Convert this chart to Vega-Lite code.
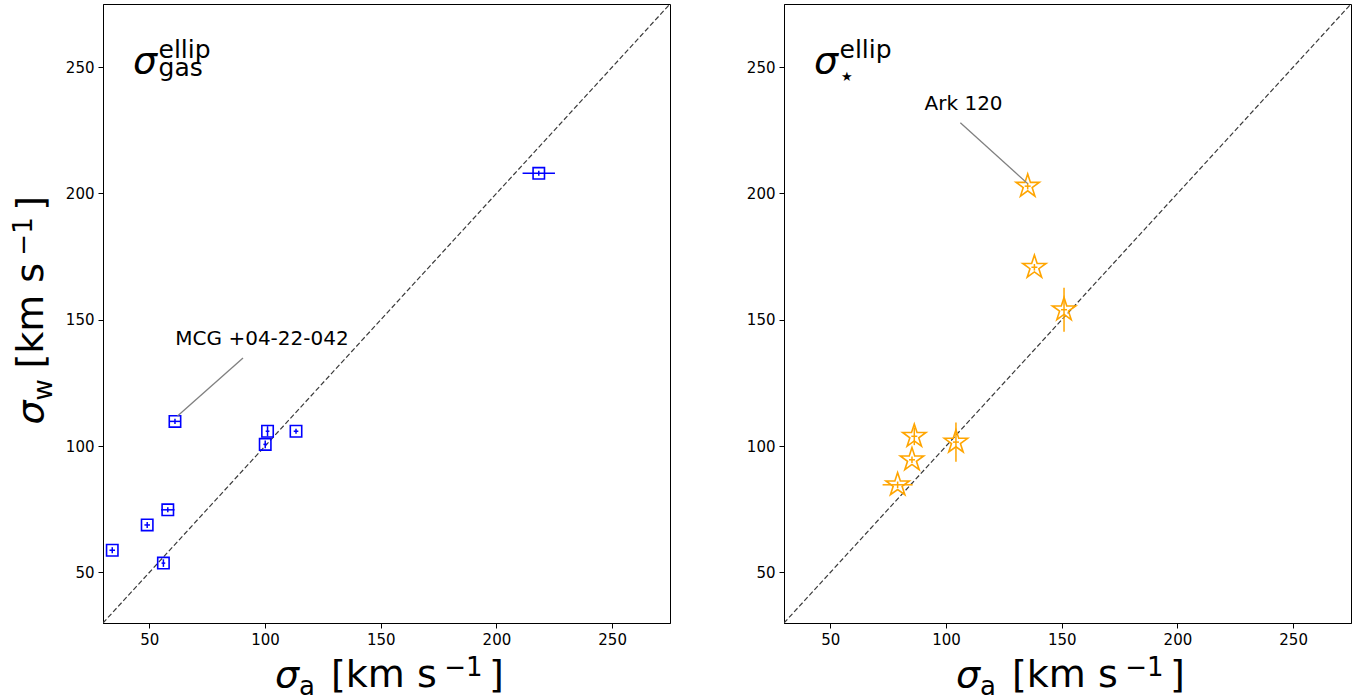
{
  "$schema": "https://vega.github.io/schema/vega-lite/v6.json",
  "background": "white",
  "padding": {"left": 10, "top": 3, "right": 0, "bottom": 0},
  "spacing": 74,
  "config": {
    "font": "DejaVu Sans",
    "view": {"stroke": "black", "strokeWidth": 1},
    "axis": {
      "grid": false,
      "domainColor": "black",
      "tickColor": "black",
      "labelColor": "black",
      "labelFont": "DejaVu Sans",
      "labelFontSize": 15,
      "tickSize": 5,
      "labelPadding": 4
    },
    "text": {"font": "DejaVu Sans", "color": "black"}
  },
  "datasets": {
    "diag": [{"x": 30, "y": 30}, {"x": 275, "y": 275}],
    "gas": [
      {"x": 34.0, "y": 58.8, "xlo": 32.8, "xhi": 35.2, "ylo": 57.6, "yhi": 60.0},
      {"x": 49.1, "y": 68.8, "xlo": 47.9, "xhi": 50.3, "ylo": 67.6, "yhi": 70.0},
      {"x": 58.0, "y": 74.8, "xlo": 55.1, "xhi": 60.9, "ylo": 73.8, "yhi": 75.8},
      {"x": 56.1, "y": 53.7, "xlo": 55.3, "xhi": 56.9, "ylo": 52.2, "yhi": 55.2},
      {"x": 61.1, "y": 109.8, "xlo": 58.9, "xhi": 63.3, "ylo": 108.8, "yhi": 110.8},
      {"x": 100.1, "y": 100.7, "xlo": 99.3, "xhi": 100.9, "ylo": 99.2, "yhi": 102.2},
      {"x": 101.1, "y": 105.9, "xlo": 100.3, "xhi": 101.9, "ylo": 103.9, "yhi": 107.9},
      {"x": 113.4, "y": 105.9, "xlo": 112.4, "xhi": 114.4, "ylo": 104.9, "yhi": 106.9},
      {"x": 218.3, "y": 208.0, "xlo": 211.3, "xhi": 225.3, "ylo": 207.0, "yhi": 209.0}
    ],
    "stars": [
      {"x": 135.3, "y": 202.9, "xlo": 134.0, "xhi": 136.6, "ylo": 201.6, "yhi": 204.2},
      {"x": 138.2, "y": 170.8, "xlo": 136.9, "xhi": 139.5, "ylo": 169.5, "yhi": 172.1},
      {"x": 151.0, "y": 154.0, "xlo": 149.7, "xhi": 152.3, "ylo": 145.3, "yhi": 162.7},
      {"x": 86.3, "y": 103.9, "xlo": 85.0, "xhi": 87.6, "ylo": 100.4, "yhi": 107.4},
      {"x": 85.3, "y": 94.6, "xlo": 84.0, "xhi": 86.6, "ylo": 93.3, "yhi": 95.9},
      {"x": 104.3, "y": 101.6, "xlo": 103.0, "xhi": 105.6, "ylo": 93.8, "yhi": 109.4},
      {"x": 79.1, "y": 84.7, "xlo": 72.6, "xhi": 85.6, "ylo": 83.4, "yhi": 86.0}
    ],
    "gasLeader": [{"x": 90.5, "y": 134.9, "x2": 62.2, "y2": 111.9}],
    "gasNote": [{"x": 98.7, "y": 140.0, "t": "MCG +04-22-042"}],
    "starLeader": [{"x": 106.2, "y": 228.0, "x2": 135.3, "y2": 203.9}],
    "starNote": [{"x": 107.6, "y": 233.0, "t": "Ark 120"}],
    "sigmaGas": [{"x": 43.0, "y": 247.6, "t": "σ"}, {"x": 104.3, "y": 4.67, "t": "σ"}],
    "sigmaStar": [{"x": 43.0, "y": 247.6, "t": "σ"}, {"x": 104.3, "y": 4.67, "t": "σ"}],
    "scriptGas": [{"x": 54.0, "y": 253.6, "t": "ellip"}, {"x": 54.0, "y": 246.5, "t": "gas"}],
    "scriptStar": [{"x": 54.0, "y": 253.6, "t": "ellip"}],
    "starGlyph": [{"x": 54.6, "y": 244.5, "t": "★"}],
    "xTitle": [{"x": 128.5, "y": 4.67, "t": "[km s"}, {"x": 196.8, "y": 4.67, "t": "]"}],
    "xTitleSmall": [{"x": 114.7, "y": 1.5, "t": "a"}, {"x": 177.4, "y": 9.03, "t": "−1"}],
    "yTitleSigma": [{"x": 4.07, "y": 108.6, "t": "σ"}],
    "yTitle": [{"x": 4.07, "y": 130.7, "t": "[km s"}, {"x": 4.07, "y": 193.2, "t": "]"}],
    "yTitleSmall": [{"x": 7.96, "y": 118.1, "t": "w"}, {"x": -0.68, "y": 175.4, "t": "−1"}]
  },
  "hconcat": [
    {
      "width": 567,
      "height": 619,
      "encoding": {
        "x": {"field": "x", "type": "quantitative", "title": null, "scale": {"domain": [30, 275], "nice": false, "zero": false}, "axis": {"values": [50, 100, 150, 200, 250]}},
        "y": {"field": "y", "type": "quantitative", "title": null, "scale": {"domain": [30, 275], "nice": false, "zero": false}, "axis": {"values": [50, 100, 150, 200, 250]}}
      },
      "layer": [
        {"data": {"name": "diag"}, "mark": {"type": "line", "color": "#3a3a3a", "strokeWidth": 1.2, "strokeDash": [5, 2.5], "clip": true}},
        {"data": {"name": "gas"}, "mark": {"type": "rule", "color": "blue", "strokeWidth": 1.5},
          "encoding": {"x": {"field": "xlo", "type": "quantitative", "title": null}, "x2": {"field": "xhi"}}},
        {"data": {"name": "gas"}, "mark": {"type": "rule", "color": "blue", "strokeWidth": 1.5},
          "encoding": {"y": {"field": "ylo", "type": "quantitative", "title": null}, "y2": {"field": "yhi"}}},
        {"data": {"name": "gas"}, "mark": {"type": "point", "shape": "square", "filled": false, "color": "blue", "strokeWidth": 1.6, "size": 130, "opacity": 1}},
        {"data": {"name": "gasLeader"}, "mark": {"type": "rule", "color": "#808080", "strokeWidth": 1.3},
          "encoding": {"x2": {"field": "x2"}, "y2": {"field": "y2"}}},
        {"data": {"name": "gasNote"}, "mark": {"type": "text", "fontSize": 20, "align": "center", "baseline": "alphabetic"},
          "encoding": {"text": {"field": "t"}}},
        {"data": {"name": "sigmaGas"}, "mark": {"type": "text", "fontSize": 38, "fontStyle": "italic", "align": "left", "baseline": "alphabetic"},
          "encoding": {"text": {"field": "t"}}},
        {"data": {"name": "scriptGas"}, "mark": {"type": "text", "fontSize": 25, "align": "left", "baseline": "alphabetic"},
          "encoding": {"text": {"field": "t"}}},
        {"data": {"name": "xTitle"}, "mark": {"type": "text", "fontSize": 38, "align": "left", "baseline": "alphabetic"},
          "encoding": {"text": {"field": "t"}}},
        {"data": {"name": "xTitleSmall"}, "mark": {"type": "text", "fontSize": 26, "align": "left", "baseline": "alphabetic"},
          "encoding": {"text": {"field": "t"}}},
        {"data": {"name": "yTitleSigma"}, "mark": {"type": "text", "fontSize": 38, "fontStyle": "italic", "angle": 270, "align": "left", "baseline": "alphabetic"},
          "encoding": {"text": {"field": "t"}}},
        {"data": {"name": "yTitle"}, "mark": {"type": "text", "fontSize": 38, "angle": 270, "align": "left", "baseline": "alphabetic"},
          "encoding": {"text": {"field": "t"}}},
        {"data": {"name": "yTitleSmall"}, "mark": {"type": "text", "fontSize": 26, "angle": 270, "align": "left", "baseline": "alphabetic"},
          "encoding": {"text": {"field": "t"}}}
      ]
    },
    {
      "width": 567,
      "height": 619,
      "encoding": {
        "x": {"field": "x", "type": "quantitative", "title": null, "scale": {"domain": [30, 275], "nice": false, "zero": false}, "axis": {"values": [50, 100, 150, 200, 250]}},
        "y": {"field": "y", "type": "quantitative", "title": null, "scale": {"domain": [30, 275], "nice": false, "zero": false}, "axis": {"values": [50, 100, 150, 200, 250]}}
      },
      "layer": [
        {"data": {"name": "diag"}, "mark": {"type": "line", "color": "#3a3a3a", "strokeWidth": 1.2, "strokeDash": [5, 2.5], "clip": true}},
        {"data": {"name": "stars"}, "mark": {"type": "rule", "color": "orange", "strokeWidth": 1.5},
          "encoding": {"x": {"field": "xlo", "type": "quantitative", "title": null}, "x2": {"field": "xhi"}}},
        {"data": {"name": "stars"}, "mark": {"type": "rule", "color": "orange", "strokeWidth": 1.5},
          "encoding": {"y": {"field": "ylo", "type": "quantitative", "title": null}, "y2": {"field": "yhi"}}},
        {"data": {"name": "stars"}, "mark": {"type": "point", "shape": "M0,-1L-0.2245,-0.309L-0.9511,-0.309L-0.3633,0.118L-0.5878,0.809L0,0.382L0.5878,0.809L0.3633,0.118L0.9511,-0.309L0.2245,-0.309Z", "filled": false, "color": "orange", "strokeWidth": 1.6, "size": 600, "opacity": 1}},
        {"data": {"name": "starLeader"}, "mark": {"type": "rule", "color": "#808080", "strokeWidth": 1.3},
          "encoding": {"x2": {"field": "x2"}, "y2": {"field": "y2"}}},
        {"data": {"name": "starNote"}, "mark": {"type": "text", "fontSize": 20, "align": "center", "baseline": "alphabetic"},
          "encoding": {"text": {"field": "t"}}},
        {"data": {"name": "sigmaStar"}, "mark": {"type": "text", "fontSize": 38, "fontStyle": "italic", "align": "left", "baseline": "alphabetic"},
          "encoding": {"text": {"field": "t"}}},
        {"data": {"name": "scriptStar"}, "mark": {"type": "text", "fontSize": 25, "align": "left", "baseline": "alphabetic"},
          "encoding": {"text": {"field": "t"}}},
        {"data": {"name": "starGlyph"}, "mark": {"type": "text", "fontSize": 13, "align": "left", "baseline": "alphabetic"},
          "encoding": {"text": {"field": "t"}}},
        {"data": {"name": "xTitle"}, "mark": {"type": "text", "fontSize": 38, "align": "left", "baseline": "alphabetic"},
          "encoding": {"text": {"field": "t"}}},
        {"data": {"name": "xTitleSmall"}, "mark": {"type": "text", "fontSize": 26, "align": "left", "baseline": "alphabetic"},
          "encoding": {"text": {"field": "t"}}}
      ]
    }
  ]
}
